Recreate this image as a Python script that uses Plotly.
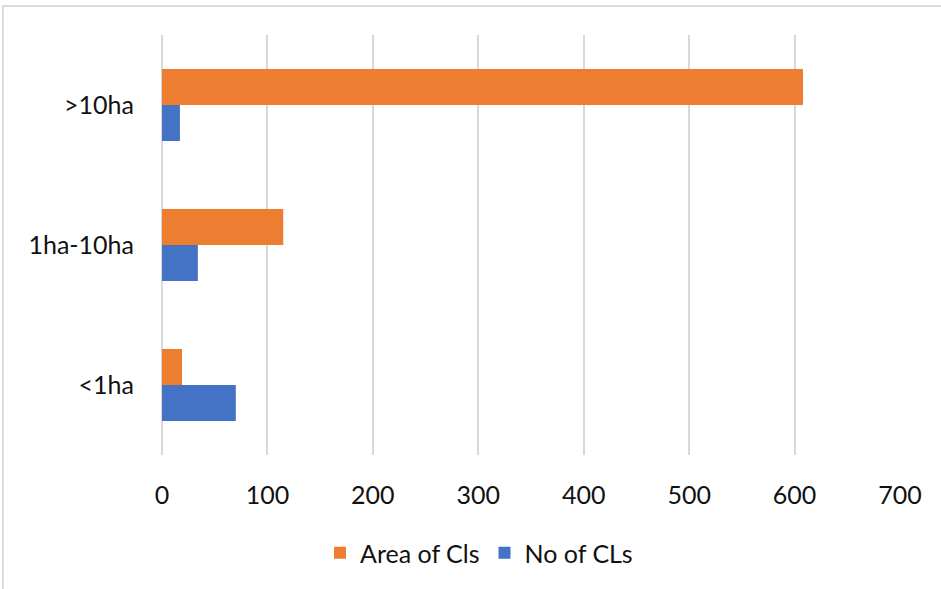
import plotly.graph_objects as go

categories = ["<1ha", "1ha-10ha", ">10ha"]
area_of_cls = [19, 115, 608]
no_of_cls = [70, 34, 17]
x_ticks = [0, 100, 200, 300, 400, 500, 600, 700]

W, H = 941, 589
L, R, T, B = 162, 41, 35, 134
pw, ph = W - L - R, H - T - B

fig = go.Figure()
fig.add_trace(go.Bar(y=categories, x=no_of_cls, orientation="h", name="No of CLs",
                     marker=dict(color="#4472C4", line=dict(width=0))))
fig.add_trace(go.Bar(y=categories, x=area_of_cls, orientation="h", name="Area of Cls",
                     marker=dict(color="#ED7D31", line=dict(width=0))))

font = "Lato, 'Noto Sans', sans-serif"
FS = 25
TXT = "#111111"

def px_x(p):
    return (p - L) / pw

def px_y(p):
    return (H - B - p) / ph

fig.update_layout(
    width=W, height=H,
    margin=dict(l=L, r=R, t=T, b=B, autoexpand=False),
    paper_bgcolor="white", plot_bgcolor="white",
    barmode="group", bargap=0.486, bargroupgap=0,
    font=dict(family=font, size=FS, color=TXT),
    xaxis=dict(range=[0, 700], tickvals=x_ticks, showgrid=True, gridcolor="#d9d9d9",
               gridwidth=1.5, zeroline=True, zerolinecolor="#d9d9d9", zerolinewidth=1.5,
               showline=False, ticks="", ticklabelstandoff=23,
               tickfont=dict(size=FS, family=font, color=TXT)),
    yaxis=dict(type="category", showgrid=False, showline=False, ticks="",
               ticklabelstandoff=27,
               tickfont=dict(size=FS, family=font, color=TXT)),
    legend=dict(orientation="h", x=px_x(479), xanchor="center", y=px_y(553),
                yanchor="middle", traceorder="reversed",
                font=dict(size=FS, family=font, color=TXT),
                itemwidth=30, tracegroupgap=0),
    showlegend=True,
    hovermode=False,
    shapes=[dict(type="rect", xref="paper", yref="paper",
                 x0=px_x(3), x1=px_x(W + 40), y0=px_y(6), y1=px_y(H + 40),
                 line=dict(color="#d0d0d0", width=1.5), layer="below")],
)

fig.write_html("out.html", config={"displayModeBar": False},
               post_script="document.body.style.margin='0';document.body.style.overflow='hidden';")
